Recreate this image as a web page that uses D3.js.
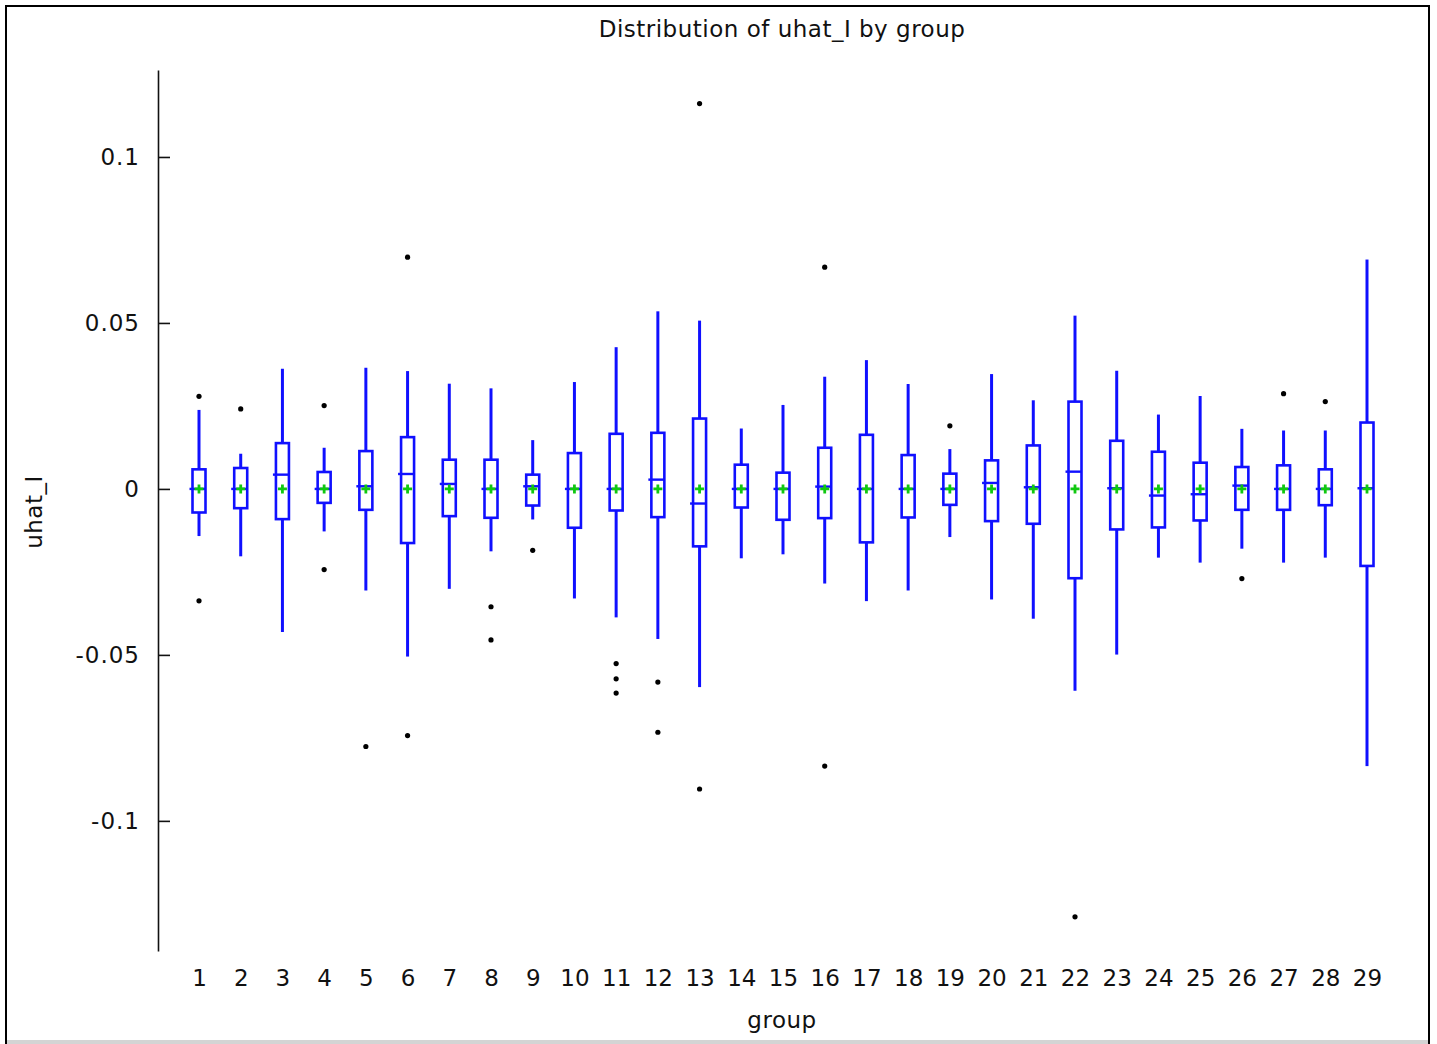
<!DOCTYPE html>
<html>
<head>
<meta charset="utf-8">
<script src="https://cdn.jsdelivr.net/npm/d3@7"></script>
<style>
  html, body { margin: 0; padding: 0; background: #fff; }
  svg { display: block; }
  text { font-family: "DejaVu Sans", Verdana, sans-serif; fill: #111; }
</style>
</head>
<body>
<svg id="chart" width="1437" height="1044"></svg>
<script>
// Groups 1..29
const groups = d3.range(1, 30);

// Five-number summaries per group (whisker low, Q1, median, Q3, whisker high)
const whiskerLow = [-0.0142, -0.0203, -0.0431, -0.0128, -0.0306, -0.0505, -0.0301, -0.0188, -0.0092, -0.0330,
                    -0.0387, -0.0452, -0.0597, -0.0209, -0.0197, -0.0285, -0.0338, -0.0306, -0.0145, -0.0333,
                    -0.0391, -0.0608, -0.0499, -0.0207, -0.0222, -0.0180, -0.0222, -0.0207, -0.0835];
const q1 =         [-0.0071, -0.0058, -0.0091, -0.0042, -0.0063, -0.0163, -0.0082, -0.0087, -0.0050, -0.0117,
                    -0.0065, -0.0085, -0.0173, -0.0056, -0.0093, -0.0088, -0.0161, -0.0086, -0.0048, -0.0097,
                    -0.0105, -0.0269, -0.0122, -0.0116, -0.0095, -0.0063, -0.0063, -0.0049, -0.0232];
const median =     [0.0000, 0.0000, 0.0043, 0.0000, 0.0008, 0.0045, 0.0015, 0.0000, 0.0008, 0.0000,
                    0.0000, 0.0028, -0.0044, 0.0000, 0.0000, 0.0007, 0.0000, 0.0000, 0.0000, 0.0018,
                    0.0005, 0.0052, 0.0002, -0.0020, -0.0016, 0.0010, 0.0000, 0.0000, 0.0002];
const q3 =         [0.0059, 0.0063, 0.0138, 0.0051, 0.0114, 0.0156, 0.0088, 0.0088, 0.0043, 0.0108,
                    0.0166, 0.0169, 0.0212, 0.0073, 0.0049, 0.0124, 0.0163, 0.0102, 0.0046, 0.0086,
                    0.0131, 0.0263, 0.0145, 0.0112, 0.0079, 0.0066, 0.0071, 0.0059, 0.0200];
const whiskerHigh = [0.0238, 0.0106, 0.0362, 0.0124, 0.0365, 0.0355, 0.0317, 0.0303, 0.0147, 0.0322,
                    0.0427, 0.0535, 0.0507, 0.0182, 0.0253, 0.0338, 0.0388, 0.0316, 0.0120, 0.0346,
                    0.0267, 0.0522, 0.0356, 0.0224, 0.0280, 0.0181, 0.0176, 0.0176, 0.0691];
const groupMean =  [0, 0, 0, 0, 0, 0, 0, 0, 0, 0, 0, 0, 0, 0, 0, 0, 0, 0, 0, 0, 0, 0, 0, 0, 0, 0, 0, 0, 0];

// Points beyond the whiskers
const outliers = [
  [0.0279, -0.0337], [0.0241], [], [0.0251, -0.0243], [-0.0776], [0.0698, -0.0743], [], [-0.0355, -0.0455],
  [-0.0185], [], [-0.0526, -0.0572, -0.0615], [-0.0582, -0.0733], [0.1161, -0.0904], [], [], [0.0668, -0.0835],
  [], [], [0.0190], [], [], [-0.1289], [], [], [], [-0.0270], [0.0287], [0.0263], []
];

const yTicks = [-0.1, -0.05, 0, 0.05, 0.1];
const yTickLabels = ["-0.1", "-0.05", "0", "0.05", "0.1"];

const svg = d3.select("#chart");
const blue = "#1010ff";
const green = "#10c810";
const fontFamily = "DejaVu Sans, Verdana, sans-serif";

// Outer frame
svg.append("path")
  .attr("d", "M6,1044 V6 H1429 V1044")
  .attr("fill", "none").attr("stroke", "#000").attr("stroke-width", 2);
svg.append("rect")
  .attr("x", 7).attr("y", 1040).attr("width", 1421).attr("height", 4)
  .attr("fill", "#d4d4d4");

const x = d3.scaleLinear().domain([1, 29]).range([199, 1367]);
const y = d3.scaleLinear().domain([-0.1392, 0.1262]).range([951, 70]);

// Title and axis titles
svg.append("text").attr("x", 782).attr("y", 37).attr("text-anchor", "middle")
  .style("font-size", "23px").style("letter-spacing", "0.5px").text("Distribution of uhat_I by group");
svg.append("text").attr("x", 782).attr("y", 1028).attr("text-anchor", "middle")
  .style("font-size", "23px").style("letter-spacing", "0.5px").text("group");
svg.append("text").attr("transform", "translate(42,512) rotate(-90)").attr("text-anchor", "middle")
  .style("font-size", "23px").style("letter-spacing", "0.5px").text("uhat_I");

// Y axis with inward ticks
const yAxis = d3.axisLeft(y)
  .tickValues(yTicks)
  .tickFormat((d, i) => yTickLabels[i])
  .tickSizeInner(-12).tickSizeOuter(0).tickPadding(18);
const gy = svg.append("g").attr("transform", "translate(158,0)").call(yAxis);
gy.select(".domain").attr("stroke", "#111").attr("stroke-width", 1.6);
gy.selectAll(".tick line").attr("stroke", "#111").attr("stroke-width", 1.6);
gy.selectAll(".tick text").style("font-size", "23px").style("font-family", fontFamily)
  .style("letter-spacing", "1px").attr("fill", "#111");

// X axis: labels only
const xAxis = d3.axisBottom(x).tickValues(groups).tickFormat(d3.format("d")).tickSize(0).tickPadding(0);
const gx = svg.append("g").attr("transform", "translate(0,970)").call(xAxis);
gx.select(".domain").remove();
gx.selectAll(".tick text").style("font-size", "23px").style("font-family", fontFamily)
  .attr("fill", "#111").attr("dy", "0.71em");

// Boxes
const boxW = 13;
const data = groups.map((g, i) => ({
  g, lo: whiskerLow[i], q1: q1[i], med: median[i], q3: q3[i], hi: whiskerHigh[i],
  mean: groupMean[i], out: outliers[i]
}));

const box = svg.append("g").selectAll("g").data(data).join("g");

box.append("line")
  .attr("x1", d => x(d.g)).attr("x2", d => x(d.g))
  .attr("y1", d => y(d.hi)).attr("y2", d => y(d.q3))
  .attr("stroke", blue).attr("stroke-width", 3);
box.append("line")
  .attr("x1", d => x(d.g)).attr("x2", d => x(d.g))
  .attr("y1", d => y(d.q1)).attr("y2", d => y(d.lo))
  .attr("stroke", blue).attr("stroke-width", 3);
box.append("rect")
  .attr("x", d => x(d.g) - boxW / 2).attr("width", boxW)
  .attr("y", d => y(d.q3)).attr("height", d => y(d.q1) - y(d.q3))
  .attr("fill", "none").attr("stroke", blue).attr("stroke-width", 2.6);
box.append("line")
  .attr("x1", d => x(d.g) - boxW / 2 - 3).attr("x2", d => x(d.g) + boxW / 2)
  .attr("y1", d => y(d.med)).attr("y2", d => y(d.med))
  .attr("stroke", blue).attr("stroke-width", 2.4);

// Mean markers
box.append("path")
  .attr("d", d => `M${x(d.g) - 4.5},${y(d.mean)} H${x(d.g) + 4.5} M${x(d.g)},${y(d.mean) - 4.5} V${y(d.mean) + 4.5}`)
  .attr("stroke", green).attr("stroke-width", 2.8).attr("fill", "none");

// Outliers
box.selectAll("circle").data(d => d.out.map(v => ({ g: d.g, v }))).join("circle")
  .attr("cx", d => x(d.g)).attr("cy", d => y(d.v)).attr("r", 2.6).attr("fill", "#000");
</script>
</body>
</html>
